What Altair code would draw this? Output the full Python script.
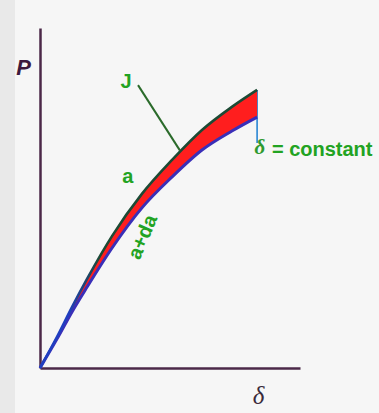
import altair as alt
import pandas as pd

# Load-displacement curves for crack lengths a and a+da
delta = [0, 0.65, 1.23, 1.81, 2.77, 3.92, 5.08, 6.23, 7.38, 8.35]
p_a = [0, 0.91, 1.79, 2.62, 3.88, 5.12, 6.12, 7.00, 7.68, 8.18]
p_ada = [0, 0.85, 1.65, 2.38, 3.53, 4.71, 5.62, 6.41, 6.97, 7.38]

# Fixed displacement at which the unloading drop is taken
delta_const = 8.35
delta_const_low = 6.62

# Leader line from the "J" label to the area
leader_delta = [3.77, 5.38]
leader_p = [8.32, 6.40]

# Curve labels (centred)
label_text = ["J", "a", "a+da"]
label_delta = [3.31, 3.38, 3.96]
label_p = [8.41, 5.62, 3.85]
label_angle = [0, 0, 293]

curves = pd.DataFrame({"delta": delta, "p_a": p_a, "p_ada": p_ada})
leader = pd.DataFrame({"delta": leader_delta, "p": leader_p})
drop = pd.DataFrame({"delta": [delta_const], "p_top": [p_a[-1]], "p_low": [delta_const_low]})
labels = pd.DataFrame({"text": label_text, "delta": label_delta, "p": label_p,
                       "angle": label_angle})
const_label = pd.DataFrame({"delta": [8.46, 8.92], "p": [6.47, 6.41],
                            "text": ["δ", "= constant"]})

x_scale = alt.Scale(domain=[0, 10], nice=False, zero=True)
y_scale = alt.Scale(domain=[0, 10], nice=False, zero=True)
axis_color = "#4b2848"
green = "#22a322"

x_enc = alt.X("delta:Q", scale=x_scale,
              axis=alt.Axis(title="δ", labels=False, ticks=False, grid=False,
                            domainColor=axis_color, domainWidth=2.5,
                            titleFont="Liberation Serif", titleFontStyle="italic",
                            titleFontWeight="normal", titleFontSize=25,
                            titleColor="#3a2a3a", titleX=218, titleY=27,
                            titleAlign="center", titleBaseline="middle"))
y_axis = alt.Axis(title="P", labels=False, ticks=False, grid=False,
                  domainColor=axis_color, domainWidth=2.5, titleAngle=0,
                  titleFont="Liberation Sans", titleFontStyle="italic",
                  titleFontWeight="bold", titleFontSize=22, titleColor="#3d1a3d",
                  titleX=-17, titleY=39, titleAlign="center", titleBaseline="middle")

# Slightly darker strip along the left edge of the page
edge_strip = alt.Chart(pd.DataFrame({"k": [0]})).mark_rect(color="#e9e9e9").encode(
    x=alt.value(-40), x2=alt.value(-25), y=alt.value(-28), y2=alt.value(385),
)

base = alt.Chart(curves)

drop_rule = alt.Chart(drop).mark_rule(color="#2a86d4", strokeWidth=1.6).encode(
    x=alt.X("delta:Q", scale=x_scale),
    y=alt.Y("p_top:Q", scale=y_scale),
    y2="p_low:Q",
)

band = base.mark_area(color="#ff1e1e", opacity=1, interpolate="monotone").encode(
    x=x_enc,
    y=alt.Y("p_a:Q", scale=y_scale, axis=y_axis),
    y2="p_ada:Q",
)

upper_stroke = alt.Gradient(
    gradient="linear",
    stops=[
        alt.GradientStop(offset=0, color="#1f3fc0"),
        alt.GradientStop(offset=0.16, color="#1f3fc0"),
        alt.GradientStop(offset=0.34, color="#1c4a34"),
        alt.GradientStop(offset=1, color="#1c4a34"),
    ],
    x1=0, x2=1, y1=1, y2=0,
)

line_a = base.mark_line(stroke=upper_stroke, strokeWidth=2.6,
                        interpolate="monotone").encode(
    x=alt.X("delta:Q", scale=x_scale),
    y=alt.Y("p_a:Q", scale=y_scale),
)

line_ada = base.mark_line(color="#3a2fb8", strokeWidth=3,
                          interpolate="monotone").encode(
    x=alt.X("delta:Q", scale=x_scale),
    y=alt.Y("p_ada:Q", scale=y_scale),
)

leader_line = alt.Chart(leader).mark_line(color="#2b6b2b", strokeWidth=2).encode(
    x=alt.X("delta:Q", scale=x_scale),
    y=alt.Y("p:Q", scale=y_scale),
)

text_marks = alt.Chart(labels).mark_text(
    font="Liberation Sans", fontWeight="bold", fontSize=20,
    color=green, baseline="middle", align="center",
).encode(
    x=alt.X("delta:Q", scale=x_scale),
    y=alt.Y("p:Q", scale=y_scale),
    text="text:N",
    angle=alt.Angle("angle:Q", scale=None),
)

delta_sym = alt.Chart(const_label.iloc[[0]]).mark_text(
    font="Liberation Serif", fontStyle="italic", fontWeight="bold", fontSize=21,
    color="#2f9a2f", baseline="middle", align="center",
).encode(
    x=alt.X("delta:Q", scale=x_scale),
    y=alt.Y("p:Q", scale=y_scale),
    text="text:N",
)

const_text = alt.Chart(const_label.iloc[[1]]).mark_text(
    font="Liberation Sans", fontWeight="bold", fontSize=20,
    color=green, baseline="middle", align="left",
).encode(
    x=alt.X("delta:Q", scale=x_scale),
    y=alt.Y("p:Q", scale=y_scale),
    text="text:N",
)

chart = alt.layer(
    edge_strip, drop_rule, band, line_ada, line_a, leader_line,
    text_marks, delta_sym, const_text
).properties(
    width=260, height=340,
    autosize=alt.AutoSizeParams(type="none"),
    padding={"left": 40, "top": 28, "right": 79, "bottom": 45},
    background="#f6f6f6",
).configure_view(stroke=None)

chart.save("out.html", embed_options={"renderer": "svg", "actions": False})
